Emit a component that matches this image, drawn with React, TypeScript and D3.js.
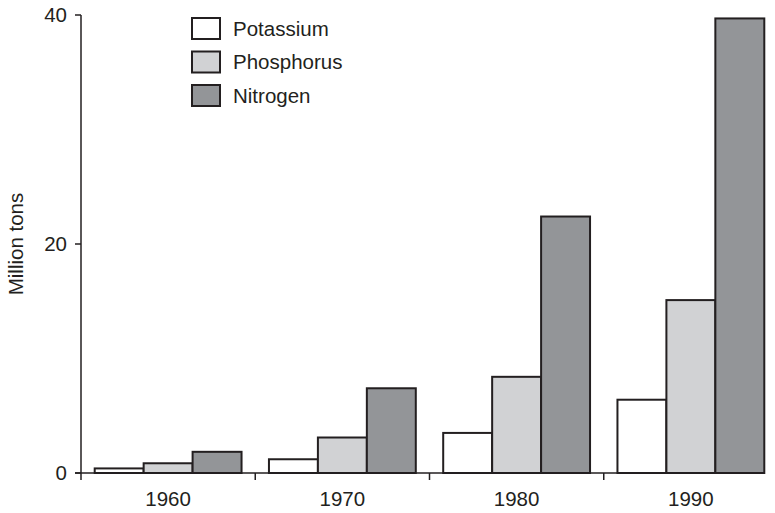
import React from "react";
import * as d3 from "d3";

const years = ["1960", "1970", "1980", "1990"];
const seriesNames = ["Potassium", "Phosphorus", "Nitrogen"];
const potassium = [0.4, 1.2, 3.5, 6.4];
const phosphorus = [0.85, 3.1, 8.4, 15.1];
const nitrogen = [1.85, 7.4, 22.4, 39.7];
const yTicks = [0, 20, 40];

const fills = ["#ffffff", "#d1d2d4", "#939598"];
const ink = "#231f20";

const W = 775;
const H = 513;
const margin = { left: 81, right: -3, top: 15, bottom: 40 };

const App = () => {
  const values = [potassium, phosphorus, nitrogen];
  const x = d3
    .scaleBand()
    .domain(years)
    .range([margin.left, W - margin.right])
    .paddingInner(0)
    .paddingOuter(0);
  const inner = d3
    .scaleBand()
    .domain(seriesNames)
    .range([0, x.bandwidth()])
    .paddingOuter(0.28)
    .paddingInner(0);
  const y = d3
    .scaleLinear()
    .domain([0, 40])
    .range([H - margin.bottom, margin.top]);
  const y0 = y(0);
  const font = "'Liberation Sans', Arial, sans-serif";
  const fs = 20.5;

  return (
    <svg
      width={W}
      height={H}
      style={{ position: "absolute", left: 0, top: 0, background: "#fff" }}
      fontFamily={font}
    >
      {/* bars */}
      {years.map((yr, i) => (
        <g key={yr} transform={`translate(${x(yr)},0)`}>
          {seriesNames.map((s, j) => (
            <rect
              key={s}
              x={inner(s)}
              y={y(values[j][i])}
              width={inner.bandwidth()}
              height={y0 - y(values[j][i])}
              fill={fills[j]}
              stroke={ink}
              strokeWidth={2}
            />
          ))}
        </g>
      ))}

      {/* y axis */}
      <line x1={margin.left} x2={margin.left} y1={y(40)} y2={y0 + 7} stroke={ink} strokeWidth={1.5} />
      {yTicks.map((t) => (
        <g key={t}>
          <line x1={margin.left - 6} x2={margin.left} y1={y(t)} y2={y(t)} stroke={ink} strokeWidth={1.5} />
          <text x={margin.left - 14} y={y(t)} dy="0.35em" textAnchor="end" fontSize={fs} fill={ink}>
            {t}
          </text>
        </g>
      ))}
      <text
        transform={`translate(23,${y(20)}) rotate(-90)`}
        textAnchor="middle"
        fontSize={fs}
        fill={ink}
      >
        Million tons
      </text>

      {/* x axis */}
      <line x1={margin.left - 6} x2={765} y1={y0} y2={y0} stroke={ink} strokeWidth={1.5} />
      {years.slice(1).map((yr) => (
        <line key={yr} x1={x(yr)} x2={x(yr)} y1={y0} y2={y0 + 7} stroke={ink} strokeWidth={1.5} />
      ))}
      {years.map((yr) => (
        <text
          key={yr}
          x={(x(yr) as number) + x.bandwidth() / 2}
          y={506}
          textAnchor="middle"
          fontSize={fs}
          fill={ink}
        >
          {yr}
        </text>
      ))}

      {/* legend */}
      {seriesNames.map((s, j) => (
        <g key={s} transform={`translate(192,${18 + j * 33.5})`}>
          <rect width={28} height={21} fill={fills[j]} stroke={ink} strokeWidth={2} />
          <text x={41} y={10.5} dy="0.35em" fontSize={fs} fill={ink}>
            {s}
          </text>
        </g>
      ))}
    </svg>
  );
};

export default App;
